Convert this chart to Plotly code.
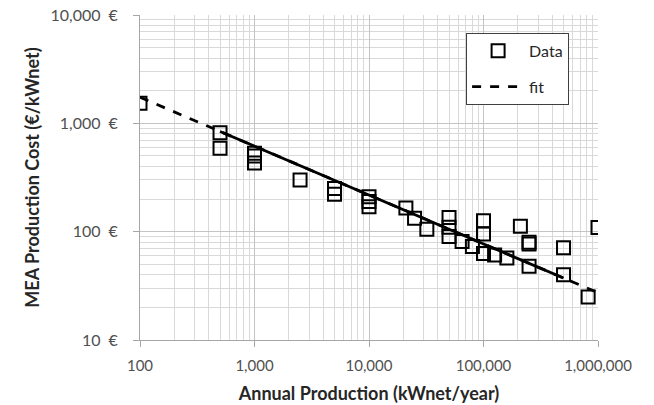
import plotly.graph_objects as go

# Data
data_x = [100, 500, 500, 1000, 1000, 1000, 2500, 5000, 5000, 10000, 10000, 10000,
          21000, 25000, 32000, 50000, 50000, 50000, 65000, 80000,
          100000, 100000, 100000, 125000, 160000, 210000, 250000, 250000, 250000,
          500000, 500000, 820000, 1000000]
data_y = [1530, 820, 590, 530, 500, 430, 300, 250, 222, 210, 190, 170,
          165, 133, 105, 135, 110, 90, 81, 73,
          126, 95, 63, 61, 57, 112, 80, 77, 48,
          71, 40, 25, 109]

# Power-law fit read at its ends (dashed extension) and solid section
fit_x = [100, 1000000]
fit_y = [1740, 27.3]
fit_solid_x = [500, 500000]
fit_solid_y = [841, 37.3]

y_tickvals = [10, 100, 1000, 10000]
y_ticktext = ["10\u2002€", "100\u2002€", "1,000\u2002€", "10,000\u2002€"]
x_tickvals = [100, 1000, 10000, 100000, 1000000]
x_ticktext = ["100", "1,000", "10,000", "100,000", "1,000,000"]

FONT = "Lato"

fig = go.Figure()
fig.add_trace(go.Scatter(
    x=fit_x, y=fit_y, mode="lines", name="fit",
    line=dict(color="black", width=2.8, dash="dash"),
    legendgroup="b", legendrank=2))
fig.add_trace(go.Scatter(
    x=fit_solid_x, y=fit_solid_y, mode="lines", showlegend=False,
    line=dict(color="black", width=2.8)))
fig.add_trace(go.Scatter(
    x=data_x, y=data_y, mode="markers", name="Data",
    marker=dict(symbol="square-open", size=13, color="black",
                line=dict(width=2, color="black")),
    legendgroup="a", legendrank=1))

grid_major = "#c4c4c4"
grid_minor = "#d9d9d9"

fig.update_xaxes(
    type="log", range=[2, 6], automargin=False,
    tickvals=x_tickvals, ticktext=x_ticktext,
    showgrid=True, gridcolor=grid_major, gridwidth=1,
    minor=dict(dtick="D1", showgrid=True, gridcolor=grid_minor, gridwidth=1,
               ticks=""),
    showline=True, linecolor="#a6a6a6", linewidth=1,
    ticks="outside", ticklen=6, tickcolor="#a6a6a6",
    ticklabelstandoff=6,
    tickfont=dict(family=FONT, size=15, color="#505050"),
    title=dict(text="<b>Annual Production (kWnet/year)</b>",
               font=dict(family=FONT, size=18, color="#262626"), standoff=14),
    zeroline=False)
fig.update_yaxes(
    type="log", range=[1, 4], automargin=False,
    tickvals=y_tickvals, ticktext=y_ticktext,
    showgrid=True, gridcolor=grid_major, gridwidth=1,
    minor=dict(dtick="D1", showgrid=True, gridcolor=grid_minor, gridwidth=1,
               ticks=""),
    showline=True, linecolor="#a6a6a6", linewidth=1,
    ticks="outside", ticklen=6, tickcolor="#a6a6a6",
    ticklabelstandoff=12,
    tickfont=dict(family=FONT, size=16, color="#505050"),
    title=dict(text="<b>MEA Production Cost (€/kWnet)</b>",
               font=dict(family=FONT, size=18, color="#262626"), standoff=6),
    zeroline=False)

fig.update_layout(
    width=654, height=405,
    margin=dict(l=140, r=56, t=15, b=65),
    paper_bgcolor="white", plot_bgcolor="white",
    showlegend=True,
    legend=dict(x=0.712, y=0.945, xanchor="left", yanchor="top",
                bgcolor="white", bordercolor="#404040", borderwidth=1,
                font=dict(family=FONT, size=16, color="#262626"),
                itemwidth=52,
                traceorder="grouped", tracegroupgap=12),
)

fig.write_html("out.html",
               config={"displayModeBar": False},
               post_script="document.body.style.margin='0';")
